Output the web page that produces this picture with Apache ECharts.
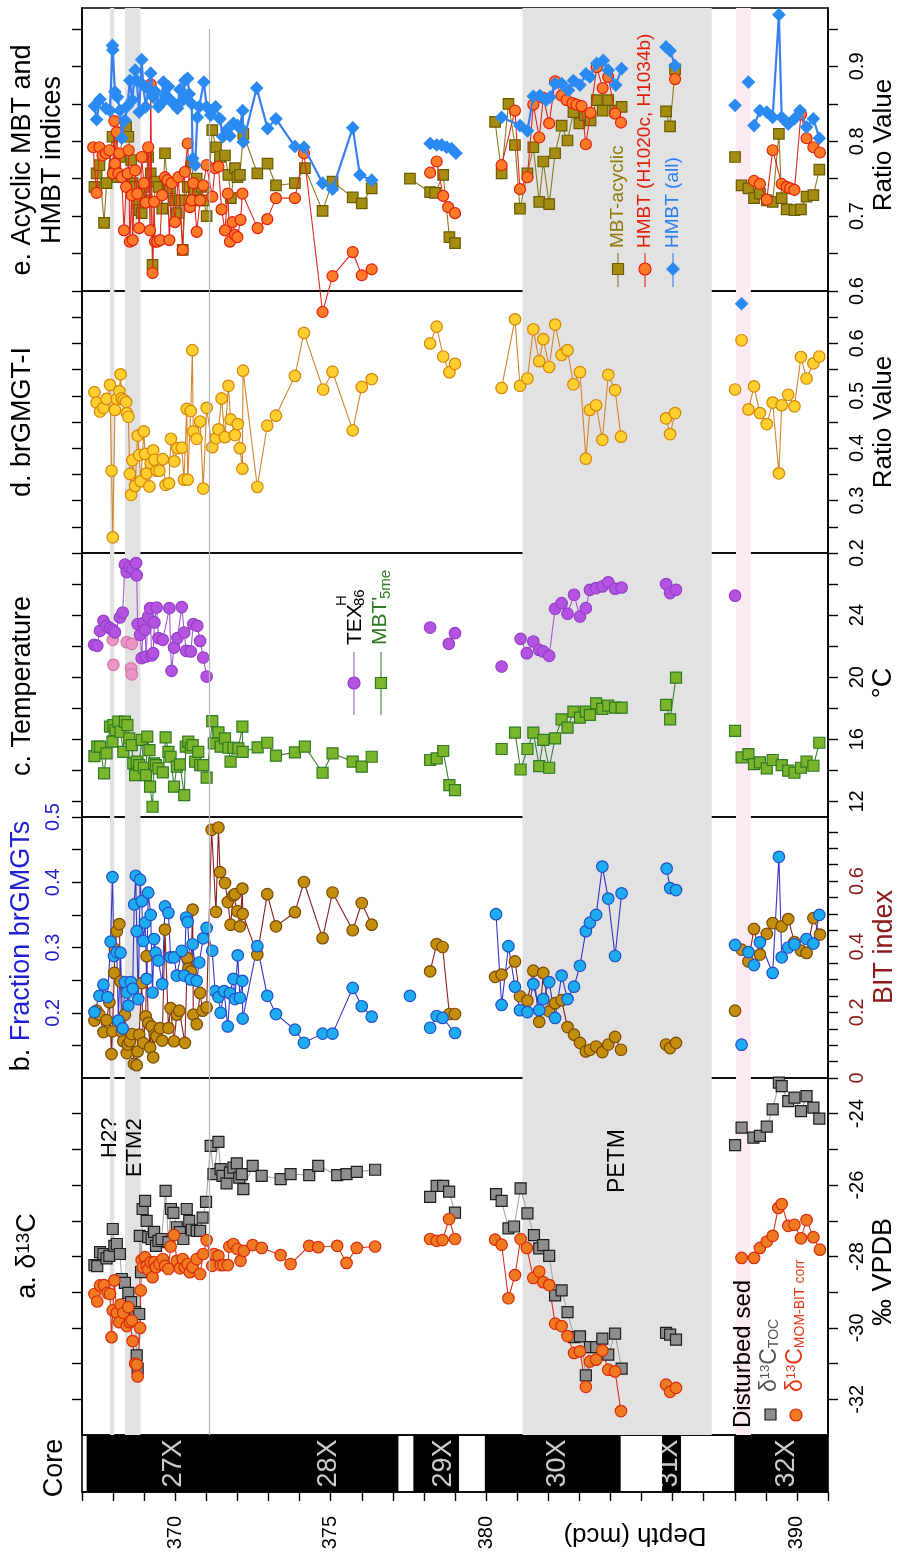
<!DOCTYPE html>
<html>
<head>
<meta charset="utf-8">
<script src="https://cdn.jsdelivr.net/npm/echarts@6.0.0/dist/echarts.min.js"></script>
<style>
html,body{margin:0;padding:0;background:#fff}
#chart{width:898px;height:1556px}
</style>
</head>
<body>
<div id="chart"></div>
<script>
// [depth mcd, value], null = gap in the line
// e. acyclic MBT / HMBT
var hmbtAll = [
 [367.40,0.847],[367.47,0.829],[367.58,0.856],[367.77,0.844],[367.90,0.841],[367.98,0.928],[367.99,0.922],[368.06,0.866],[368.14,0.859],[368.22,0.841],[368.28,0.804],[368.38,0.828],[368.46,0.847],[368.54,0.881],[368.62,0.855],[368.71,0.895],[368.76,0.881],[368.84,0.839],[368.92,0.909],[368.97,0.875],[369.05,0.846],[369.13,0.870],[369.21,0.891],[369.29,0.859],[369.37,0.866],[369.46,0.846],[369.53,0.850],[369.62,0.879],[369.69,0.861],[369.78,0.873],[369.85,0.855],[369.94,0.850],[370.07,0.844],[370.15,0.869],[370.24,0.855],[370.31,0.881],[370.40,0.884],[370.45,0.863],[370.53,0.850],[370.56,0.777],[370.64,0.768],[370.71,0.832],[370.77,0.846],[370.92,0.879],[371.01,0.846],[371.14,0.835],[371.30,0.846],[371.44,0.830],[371.53,0.806],[371.65,0.815],[371.76,0.807],[371.87,0.824],[372.00,0.821],[372.08,0.819],[372.17,0.841],[372.19,0.799],[372.62,0.871],[372.97,0.817],[373.24,0.830],[373.85,0.793],[374.14,0.792],[374.74,0.744],[375.06,0.736],[375.71,0.818],[375.94,0.755],[376.32,0.748], null,
 [378.20,0.797],[378.41,0.795],[378.57,0.795],[378.73,0.792],[378.89,0.790],[379.03,0.784], null,
 [380.50,0.832],[381.09,0.821],[381.33,0.814],[381.52,0.860],[381.73,0.861],[381.93,0.855],[382.06,0.859],[382.22,0.877],[382.43,0.877],[382.65,0.868],[382.81,0.881],[383.02,0.875],[383.21,0.890],[383.34,0.886],[383.56,0.904],[383.77,0.908],[383.93,0.895],[384.17,0.875],[384.36,0.897], null,
 [385.79,0.926],[385.92,0.921],[386.08,0.901], null,
 [388.01,0.848], null, [388.22,0.583], null, [388.44,0.879], null,
 [388.62,0.821],[388.81,0.841],[389.03,0.839],[389.22,0.832],[389.42,0.969],[389.51,0.832],[389.72,0.823],[389.92,0.830],[390.10,0.841],[390.31,0.819],[390.53,0.830],[390.72,0.804]
];
var hmbtSel = [
 [367.36,0.792],[367.47,0.731],[367.56,0.792],[367.66,0.781],[367.77,0.784],[367.88,0.788],[367.99,0.757],[368.04,0.827],[368.06,0.770],[368.12,0.812],[368.17,0.757],[368.20,0.784],[368.28,0.752],[368.35,0.681],[368.42,0.739],[368.47,0.757],[368.50,0.788],[368.54,0.666],[368.60,0.728],[368.63,0.668],[368.71,0.761],[368.78,0.730],[368.84,0.684],[368.92,0.779],[368.99,0.744],[369.05,0.718],[369.13,0.792],[369.19,0.681],[369.21,0.876],[369.27,0.624],[369.32,0.719],[369.35,0.666],[369.42,0.666],[369.51,0.668],[369.58,0.728],[369.67,0.752],[369.75,0.748],[369.81,0.668],[369.88,0.744],[369.99,0.692],[370.10,0.752],[370.24,0.655],[370.31,0.759],[370.40,0.797],[370.47,0.712],[370.53,0.721],[370.58,0.744],[370.69,0.679],[370.80,0.721],[370.90,0.741],[371.01,0.768],[371.19,0.726],[371.28,0.764],[371.39,0.766],[371.49,0.709],[371.60,0.681],[371.69,0.730],[371.76,0.666],[371.84,0.692],[371.92,0.675],[372.00,0.672],[372.10,0.695],[372.16,0.730],[372.65,0.684],[372.96,0.696],[373.24,0.724],[373.85,0.724],[374.14,0.784],[374.74,0.572],[375.06,0.620],[375.71,0.652],[376.00,0.621],[376.32,0.629], null,
 [378.20,0.758],[378.41,0.773],[378.62,0.727],[378.78,0.712],[379.00,0.704], null,
 [380.50,0.768],[380.93,0.841],[381.09,0.736],[381.33,0.752],[381.52,0.849],[381.71,0.805],[381.84,0.858],[382.03,0.824],[382.22,0.880],[382.43,0.861],[382.59,0.855],[382.78,0.851],[382.91,0.849],[383.07,0.847],[383.21,0.796],[383.36,0.838],[383.56,0.899],[383.75,0.871],[383.93,0.886],[384.15,0.837],[384.34,0.825], null,
 [386.08,0.883], null,
 [388.62,0.747],[388.81,0.743],[389.03,0.722],[389.22,0.788],[389.51,0.743],[389.67,0.739],[389.78,0.737],[389.92,0.735],[390.13,0.836],[390.31,0.804],[390.53,0.792],[390.74,0.785]
];
var mbtAcyclic = [
 [367.40,0.739],[367.47,0.757],[367.56,0.768],[367.71,0.691],[367.79,0.744],[367.98,0.806],[368.06,0.768],[368.14,0.752],[368.22,0.779],[368.31,0.812],[368.42,0.819],[368.49,0.806],[368.58,0.775],[368.63,0.744],[368.71,0.739],[368.76,0.717],[368.84,0.708],[368.92,0.704],[368.99,0.739],[369.08,0.721],[369.13,0.779],[369.21,0.757],[369.27,0.635],[369.35,0.746],[369.46,0.739],[369.58,0.710],[369.67,0.784],[369.75,0.741],[369.83,0.737],[369.96,0.721],[370.05,0.704],[370.15,0.721],[370.24,0.655],[370.32,0.721],[370.40,0.739],[370.53,0.772],[370.60,0.735],[370.69,0.750],[370.77,0.721],[370.85,0.739],[370.92,0.721],[371.01,0.700],[371.19,0.815],[371.31,0.792],[371.44,0.779],[371.60,0.781],[371.71,0.755],[371.79,0.724],[371.92,0.764],[372.00,0.752],[372.08,0.755],[372.19,0.810],[372.64,0.757],[372.97,0.770],[373.24,0.741],[373.85,0.744],[374.17,0.764],[374.74,0.707],[375.06,0.746],[375.71,0.725],[376.00,0.717],[376.32,0.737], null,
 [377.55,0.750],[378.20,0.732],[378.36,0.731],[378.62,0.755],[378.82,0.672],[379.00,0.664], null,
 [380.29,0.826],[380.50,0.757],[380.72,0.850],[380.93,0.795],[381.09,0.710],[381.33,0.757],[381.52,0.792],[381.71,0.719],[381.84,0.773],[382.03,0.716],[382.22,0.784],[382.43,0.821],[382.62,0.801],[382.81,0.839],[383.00,0.824],[383.18,0.835],[383.36,0.828],[383.56,0.855],[383.75,0.841],[383.93,0.855],[384.15,0.841],[384.36,0.846], null,
 [385.79,0.840],[385.92,0.820],[386.08,0.896], null,
 [388.01,0.779], null,
 [388.22,0.741],[388.44,0.737],[388.62,0.724],[388.81,0.730],[389.03,0.721],[389.22,0.719],[389.42,0.810],[389.51,0.724],[389.67,0.709],[389.92,0.708],[390.13,0.709],[390.31,0.726],[390.53,0.728],[390.72,0.762]
];

// d. brGMGT-I
var brgmgtI = [
 [367.40,0.507],[367.47,0.487],[367.58,0.470],[367.69,0.477],[367.79,0.494],[367.90,0.521],[367.95,0.357],[367.99,0.230],[368.06,0.473],[368.12,0.494],[368.20,0.509],[368.24,0.541],[368.28,0.495],[368.35,0.492],[368.42,0.488],[368.44,0.467],[368.49,0.460],[368.54,0.351],[368.58,0.311],[368.62,0.377],[368.71,0.328],[368.79,0.424],[368.84,0.387],[368.89,0.337],[368.99,0.432],[369.03,0.389],[369.08,0.352],[369.17,0.327],[369.21,0.371],[369.29,0.396],[369.33,0.378],[369.40,0.357],[369.49,0.357],[369.60,0.379],[369.69,0.330],[369.80,0.333],[369.86,0.418],[369.97,0.375],[370.07,0.400],[370.21,0.401],[370.28,0.340],[370.37,0.475],[370.40,0.340],[370.50,0.471],[370.55,0.587],[370.58,0.432],[370.69,0.418],[370.80,0.451],[370.90,0.323],[371.01,0.477],[371.19,0.402],[371.31,0.419],[371.39,0.436],[371.49,0.495],[371.60,0.421],[371.71,0.519],[371.78,0.455],[371.92,0.425],[372.01,0.446],[372.08,0.400],[372.16,0.361],[372.18,0.548],[372.64,0.326],[372.96,0.443],[373.24,0.462],[373.85,0.538],[374.14,0.620],[374.76,0.512],[375.06,0.546],[375.71,0.434],[376.00,0.517],[376.32,0.532], null,
 [378.20,0.600],[378.41,0.632],[378.62,0.575],[378.82,0.545],[379.00,0.561], null,
 [380.50,0.515],[380.93,0.646],[381.09,0.519],[381.33,0.533],[381.52,0.627],[381.71,0.566],[381.84,0.608],[382.03,0.555],[382.22,0.636],[382.43,0.578],[382.62,0.587],[382.81,0.522],[383.02,0.545],[383.21,0.380],[383.34,0.473],[383.54,0.482],[383.74,0.416],[383.93,0.540],[384.15,0.511],[384.34,0.422], null,
 [385.79,0.457],[385.92,0.427],[386.08,0.467], null,
 [388.01,0.512], null, [388.22,0.606], null,
 [388.44,0.474],[388.62,0.518],[388.81,0.467],[389.03,0.446],[389.22,0.487],[389.42,0.352],[389.51,0.482],[389.72,0.502],[389.92,0.480],[390.13,0.574],[390.31,0.533],[390.53,0.562],[390.72,0.575]
];

// c. temperature (°C)
var tex86 = [
 [367.39,22.09],[367.49,22.02],[367.58,22.99],[367.69,23.63],[367.79,23.31],[367.90,23.16],[367.99,23.05],[368.06,22.90],[368.22,23.85],[368.31,24.17],[368.38,27.25],[368.44,26.77],[368.53,27.10],[368.63,26.97],[368.74,27.35],[368.76,26.56],[368.79,23.42],[368.87,22.73],[368.92,21.23],[368.97,23.48],[369.03,23.05],[369.06,21.33],[369.13,23.91],[369.19,24.45],[369.24,21.40],[369.29,21.55],[369.33,23.53],[369.40,24.49],[369.46,22.52],[369.60,22.41],[369.81,24.45],[369.88,20.41],[369.96,21.91],[370.07,22.52],[370.21,24.52],[370.29,22.88],[370.35,21.70],[370.50,21.66],[370.58,23.42],[370.71,23.31],[370.80,22.34],[370.90,21.27],[371.01,20.04], null,
 [378.20,23.20], null, [378.80,22.15],[379.00,22.84], null,
 [380.50,20.69], null,
 [381.11,22.47],[381.31,21.55],[381.52,22.30],[381.71,21.76],[381.84,21.66],[382.03,21.38],[382.22,24.41],[382.43,24.77],[382.62,24.09],[382.83,25.31],[383.02,23.91],[383.21,24.45],[383.34,25.63],[383.54,25.74],[383.74,25.85],[383.93,26.11],[384.15,25.70],[384.36,25.78], null,
 [385.79,26.00],[385.92,25.42],[386.11,25.63], null,
 [388.01,25.25]
];
var tex86Excluded = [[367.99,22.41], null, [368.01,20.80], null, [368.44,22.26], null, [368.60,22.15], null, [368.58,20.58], null, [368.60,20.19]];
var mbt5me = [
 [367.40,14.92],[367.49,15.53],[367.58,15.53],[367.71,13.81],[367.79,15.10],[367.90,16.82],[367.98,15.85],[368.01,16.92],[368.08,16.60],[368.17,17.14],[368.24,16.49],[368.33,15.20],[368.38,17.14],[368.46,16.92],[368.52,16.06],[368.60,15.63],[368.65,14.45],[368.71,13.70],[368.76,14.56],[368.84,14.34],[368.92,15.96],[368.99,14.17],[369.06,13.70],[369.10,16.17],[369.17,15.31],[369.19,12.95],[369.27,11.66],[369.32,14.45],[369.38,14.34],[369.46,14.13],[369.60,13.87],[369.69,16.13],[369.78,15.20],[369.85,14.88],[369.96,12.95],[370.05,14.24],[370.15,14.39],[370.29,12.41],[370.34,15.53],[370.42,15.85],[370.50,15.46],[370.56,15.63],[370.64,14.56],[370.74,15.20],[370.80,14.34],[370.90,14.34],[371.01,13.53],[371.19,17.18],[371.24,15.74],[371.39,16.45],[371.46,15.53],[371.60,16.06],[371.71,15.46],[371.78,14.56],[371.87,15.46],[372.03,15.42],[372.16,16.82],[372.17,15.20],[372.65,15.48],[372.96,15.78],[373.24,14.95],[373.85,15.16],[374.17,15.53],[374.74,13.85],[375.06,15.10],[375.71,14.56],[376.00,14.24],[376.32,14.88], null,
 [378.20,14.67],[378.41,14.77],[378.62,15.25],[378.82,13.05],[379.00,12.73], null,
 [380.50,15.38], null,
 [380.93,16.43],[381.11,14.06],[381.33,15.38],[381.52,16.43],[381.71,14.28],[381.84,15.96],[382.03,14.17],[382.22,16.06],[382.43,17.29],[382.62,16.75],[382.81,17.78],[383.02,17.40],[383.21,17.78],[383.34,17.57],[383.54,18.32],[383.74,17.96],[383.93,18.17],[384.15,18.04],[384.36,18.04], null,
 [385.79,18.22],[385.92,17.29],[386.11,19.98], null,
 [388.01,16.54], null,
 [388.22,14.84],[388.44,15.05],[388.62,14.41],[388.81,14.52],[389.03,14.13],[389.22,14.67],[389.51,14.34],[389.72,13.98],[389.92,13.85],[390.13,14.17],[390.31,14.56],[390.53,14.30],[390.72,15.78]
];

// b. fraction brGMGTs (left) and BIT index (right)
var fracBrGMGT = [
 [367.40,0.201],[367.56,0.226],[367.69,0.243],[367.82,0.224],[367.92,0.309],[367.98,0.408],[368.03,0.287],[368.12,0.293],[368.17,0.188],[368.24,0.292],[368.31,0.176],[368.38,0.247],[368.44,0.231],[368.49,0.211],[368.57,0.247],[368.63,0.237],[368.68,0.366],[368.73,0.410],[368.76,0.325],[368.81,0.221],[368.87,0.404],[368.92,0.371],[368.97,0.310],[369.03,0.338],[369.08,0.252],[369.13,0.384],[369.21,0.350],[369.27,0.231],[369.32,0.313],[369.37,0.292],[369.46,0.280],[369.58,0.244],[369.67,0.363],[369.78,0.353],[369.85,0.285],[369.96,0.285],[370.05,0.257],[370.21,0.295],[370.29,0.257],[370.35,0.346],[370.40,0.339],[370.50,0.251],[370.56,0.305],[370.69,0.249],[370.77,0.277],[370.90,0.314],[371.01,0.330],[371.19,0.295],[371.28,0.233],[371.39,0.224],[371.46,0.200],[371.57,0.233],[371.69,0.179],[371.76,0.230],[371.87,0.252],[371.92,0.221],[372.01,0.288],[372.08,0.223],[372.16,0.249],[372.17,0.191],[372.64,0.302],[372.96,0.226],[373.24,0.198],[373.85,0.174],[374.14,0.154],[374.74,0.168],[375.06,0.168],[375.71,0.238],[376.00,0.210],[376.32,0.194], null,
 [377.55,0.226], null,
 [378.20,0.177],[378.41,0.195],[378.60,0.192],[379.00,0.169], null,
 [380.32,0.351],[380.50,0.212],[380.72,0.302],[380.93,0.240],[381.09,0.204],[381.33,0.201],[381.52,0.244],[381.71,0.204],[381.84,0.221],[382.03,0.247],[382.22,0.192],[382.43,0.257],[382.62,0.221],[382.83,0.240],[383.02,0.272],[383.21,0.325],[383.34,0.338],[383.54,0.350],[383.74,0.424],[383.93,0.375],[384.15,0.287],[384.36,0.383], null,
 [385.81,0.421],[385.92,0.391],[386.11,0.388], null,
 [388.01,0.304], null, [388.22,0.151], null,
 [388.44,0.293],[388.62,0.273],[388.81,0.308],[389.22,0.261],[389.42,0.439],[389.51,0.285],[389.72,0.300],[389.92,0.305],[390.31,0.313],[390.53,0.306],[390.72,0.350]
];
var bitIndex = [
 [367.40,0.175],[367.47,0.205],[367.56,0.193],[367.69,0.140],[367.79,0.176],[367.88,0.231],[367.95,0.073],[367.98,0.142],[368.04,0.320],[368.06,0.393],[368.12,0.447],[368.20,0.469],[368.24,0.294],[368.28,0.140],[368.33,0.112],[368.38,0.193],[368.44,0.076],[368.47,0.102],[368.54,0.112],[368.60,0.134],[368.67,0.043],[368.76,0.039],[368.79,0.081],[368.84,0.132],[368.92,0.289],[368.97,0.107],[369.05,0.188],[369.08,0.371],[369.13,0.168],[369.19,0.093],[369.24,0.157],[369.29,0.063],[369.35,0.132],[369.40,0.127],[369.51,0.152],[369.58,0.114],[369.67,0.452],[369.78,0.152],[369.85,0.213],[369.96,0.112],[370.05,0.193],[370.13,0.205],[370.31,0.107],[370.39,0.365],[370.42,0.333],[370.50,0.325],[370.56,0.513],[370.58,0.193],[370.69,0.164],[370.80,0.259],[370.88,0.205],[371.01,0.215],[371.17,0.756],[371.31,0.506],[371.39,0.763],[371.44,0.627],[371.60,0.594],[371.69,0.536],[371.78,0.467],[371.87,0.556],[371.92,0.560],[372.00,0.508],[372.08,0.462],[372.16,0.577],[372.17,0.500],[372.64,0.376],[372.96,0.560],[373.24,0.462],[373.85,0.505],[374.14,0.597],[374.74,0.426],[375.06,0.565],[375.71,0.450],[376.00,0.533],[376.32,0.467], null,
 [378.20,0.325],[378.41,0.408],[378.60,0.399],[378.82,0.195],[379.00,0.195], null,
 [380.29,0.308],[380.50,0.315],[380.93,0.355],[381.09,0.249],[381.33,0.236],[381.52,0.327],[381.71,0.171],[381.84,0.320],[382.03,0.203],[382.22,0.228],[382.43,0.237],[382.62,0.155],[382.83,0.132],[383.02,0.107],[383.21,0.081],[383.34,0.086],[383.54,0.096],[383.74,0.079],[383.93,0.102],[384.15,0.125],[384.34,0.086], null,
 [385.79,0.102],[385.92,0.091],[386.11,0.107], null,
 [388.01,0.205], null,
 [388.22,0.391],[388.44,0.355],[388.62,0.454],[388.81,0.376],[389.03,0.439],[389.22,0.472],[389.51,0.462],[389.72,0.484],[389.92,0.414],[390.13,0.388],[390.31,0.381],[390.53,0.487],[390.74,0.437]
];

// a. d13C (permil VPDB)
var d13cToc = [
 [367.40,-28.24],[367.49,-28.27],[367.58,-27.88],[367.69,-27.93],[367.79,-28.05],[367.88,-27.98],[367.99,-27.23],[368.04,-27.70],[368.12,-27.65],[368.22,-27.93],[368.28,-28.63],[368.38,-28.74],[368.49,-29.02],[368.58,-29.28],[368.71,-29.56],[368.76,-30.77],[368.79,-31.14],[368.84,-29.61],[368.86,-27.42],[368.90,-28.44],[368.95,-26.67],[369.03,-26.44],[369.08,-27.00],[369.13,-27.46],[369.24,-27.51],[369.32,-27.31],[369.38,-27.70],[369.46,-27.56],[369.56,-27.51],[369.69,-26.16],[369.78,-27.60],[369.86,-26.67],[369.94,-26.78],[370.05,-27.18],[370.15,-27.32],[370.26,-27.51],[370.37,-26.67],[370.45,-27.00],[370.53,-27.25],[370.69,-27.28],[370.80,-27.28],[370.88,-26.91],[370.99,-26.47],[371.14,-24.90],[371.23,-25.69],[371.39,-24.79],[371.46,-25.55],[371.52,-25.74],[371.65,-25.95],[371.76,-25.65],[371.87,-25.51],[371.98,-25.39],[372.06,-25.79],[372.14,-25.69],[372.19,-26.11],[372.49,-25.46],[372.78,-25.74],[373.39,-25.83],[373.71,-25.69],[374.31,-25.72],[374.60,-25.46],[375.21,-25.72],[375.51,-25.69],[375.84,-25.63],[376.43,-25.57], null,
 [378.20,-26.33],[378.41,-26.02],[378.62,-26.02],[378.81,-26.18],[379.00,-26.77], null,
 [380.32,-26.25],[380.50,-26.44],[380.72,-27.21],[380.90,-27.16],[381.11,-26.09],[381.33,-26.79],[381.54,-27.40],[381.71,-27.77],[381.84,-27.68],[382.03,-27.98],[382.22,-29.09],[382.43,-28.95],[382.62,-29.56],[382.83,-30.26],[383.02,-30.24],[383.21,-31.33],[383.34,-30.54],[383.54,-30.54],[383.74,-30.30],[383.93,-30.75],[384.15,-30.16],[384.36,-31.14], null,
 [385.79,-30.14],[385.92,-30.19],[386.11,-30.33], null,
 [388.01,-24.88], null,
 [388.22,-24.39],[388.60,-24.67],[388.81,-24.62],[389.03,-24.36],[389.22,-23.88],[389.42,-23.13],[389.51,-23.23],[389.72,-23.65],[389.92,-23.55],[390.13,-23.93],[390.31,-23.51],[390.53,-23.83],[390.72,-24.14]
];
var d13cMom = [
 [367.40,-29.05],[367.49,-29.26],[367.58,-28.81],[367.71,-28.80],[367.82,-29.02],[367.90,-29.05],[367.95,-30.26],[367.99,-29.51],[368.04,-28.67],[368.12,-29.58],[368.20,-29.84],[368.24,-29.35],[368.33,-29.58],[368.44,-29.95],[368.49,-29.42],[368.54,-29.84],[368.60,-29.79],[368.63,-30.37],[368.71,-31.00],[368.76,-31.03],[368.79,-31.36],[368.87,-30.00],[368.89,-28.95],[368.92,-28.10],[368.95,-28.30],[369.03,-28.02],[369.08,-28.26],[369.13,-28.37],[369.21,-28.16],[369.27,-28.58],[369.32,-28.16],[369.38,-28.30],[369.49,-28.21],[369.60,-28.07],[369.67,-28.26],[369.78,-28.35],[369.85,-27.72],[369.96,-27.40],[370.05,-28.12],[370.15,-28.33],[370.24,-28.07],[370.31,-28.30],[370.40,-28.21],[370.47,-28.44],[370.56,-28.30],[370.69,-28.07],[370.80,-28.49],[370.90,-27.93],[371.01,-27.54],[371.19,-28.26],[371.25,-27.93],[371.39,-27.98],[371.46,-28.24],[371.55,-28.24],[371.69,-28.24],[371.74,-27.72],[371.87,-27.65],[372.00,-27.79],[372.10,-28.12],[372.21,-27.84],[372.49,-27.68],[372.78,-27.76],[373.39,-27.96],[373.71,-28.21],[374.31,-27.70],[374.60,-27.74],[375.21,-27.70],[375.51,-28.18],[375.84,-27.76],[376.43,-27.72], null,
 [378.20,-27.51],[378.41,-27.56],[378.60,-27.54],[378.81,-26.95],[379.00,-27.51], null,
 [380.29,-27.53],[380.50,-27.67],[380.72,-29.17],[380.93,-28.52],[381.11,-27.51],[381.31,-27.76],[381.52,-28.60],[381.71,-28.42],[381.84,-28.72],[382.03,-28.80],[382.22,-29.88],[382.43,-29.95],[382.62,-30.23],[382.83,-30.70],[383.02,-30.66],[383.21,-31.65],[383.34,-30.94],[383.54,-30.89],[383.74,-30.63],[383.93,-31.17],[384.15,-31.22],[384.34,-32.33], null,
 [385.79,-31.59],[385.92,-31.79],[386.11,-31.68], null,
 [388.22,-28.04],[388.62,-28.04],[388.81,-27.76],[389.03,-27.58],[389.22,-27.42],[389.40,-26.64],[389.51,-26.53],[389.72,-27.14],[389.92,-27.11],[390.13,-27.49],[390.31,-26.98],[390.53,-27.46],[390.74,-27.81]
];

// cores: black intervals and label depths
var coreBlocks = [[367.15,377.18],[377.66,379.13],[379.96,384.33],[385.66,386.27],[387.98,391]];
var coreNames = ['27X','28X','29X','30X','31X','32X'];
var coreLabelDepth = [369.95,374.92,378.62,382.30,385.89,389.68];

// event bands
var greyBands = [[367.90,368.04],[368.38,368.88],[381.17,387.26]];
var pinkBand = [388.04,388.52];
var depthLine = 371.09;

var FONT = 'Liberation Sans, Arial, Helvetica, sans-serif';
var DMIN = 367, DMAX = 391;

function steps(a, b, s) {
    var r = [];
    for (var i = 0; a + i * s <= b + 1e-9; i++) r.push(+(a + i * s).toFixed(4));
    return r;
}
function segs(arr) {
    var out = [], cur = [];
    arr.forEach(function (p) {
        if (p === null) { if (cur.length) out.push(cur); cur = []; }
        else cur.push(p);
    });
    if (cur.length) out.push(cur);
    return out;
}

// panels top to bottom: e, d, c, b, a, core
var panels = [
    {top: 8, height: 283},
    {top: 291, height: 262},
    {top: 553, height: 264},
    {top: 817, height: 261},
    {top: 1078, height: 357},
    {top: 1435, height: 57}
];
var grid = panels.map(function (p) {
    return {left: 82, right: 70, top: p.top, height: p.height, show: true,
        borderColor: '#000', borderWidth: 1.6, backgroundColor: 'transparent',
        containLabel: false, outerBoundsMode: 'none'};
});

var xAxis = panels.map(function (p, i) {
    var last = i === panels.length - 1;
    return {
        type: 'value', gridIndex: i, min: DMIN, max: DMAX, position: 'bottom',
        splitLine: {show: false},
        axisLine: {show: last, onZero: false, lineStyle: {color: '#000', width: 1.6}},
        axisTick: {show: last, customValues: steps(367, 391, 1), length: 9, lineStyle: {color: '#000', width: 1.4}},
        axisLabel: {show: last, customValues: [370, 375, 380, 390], rotate: 90, align: 'right',
            verticalAlign: 'middle', margin: 24, fontSize: 20, color: '#000', fontFamily: FONT}
    };
});

function yPair(gi, min, max, ticks, labels, fmt, leftLabels, labelColor) {
    var base = {
        type: 'value', gridIndex: gi, min: min, max: max, splitLine: {show: false},
        axisLine: {show: true, onZero: false, lineStyle: {color: '#000', width: 1.6}},
        axisTick: {show: true, customValues: ticks, length: 10, lineStyle: {color: '#000', width: 1.4}}
    };
    var left = echarts.util.merge({position: 'left', axisLabel: {show: false}}, base, true);
    var right = echarts.util.merge({position: 'right', axisLabel: {show: true, customValues: labels, formatter: fmt,
        rotate: 90, align: 'center', verticalAlign: 'top', margin: 19, fontSize: 20,
        color: labelColor || '#000', fontFamily: FONT}}, base, true);
    if (leftLabels) {
        left.min = leftLabels.min; left.max = leftLabels.max;
        left.axisTick.customValues = leftLabels.ticks;
        left.axisLabel = {show: true, customValues: leftLabels.labels, formatter: leftLabels.fmt, rotate: 90,
            align: 'center', verticalAlign: 'bottom', margin: 19, fontSize: 20, color: leftLabels.color, fontFamily: FONT};
    }
    return [left, right];
}
var f1 = function (v) { return v === 0 ? '0' : v.toFixed(1); };
var f0 = function (v) { return String(Math.round(v)); };

var yAxis = [].concat(
    yPair(0, 0.6, 0.978, steps(0.6, 0.95, 0.05), [0.6, 0.7, 0.8, 0.9], f1),
    yPair(1, 0.2, 0.7, steps(0.2, 0.65, 0.05), [0.2, 0.3, 0.4, 0.5, 0.6], f1),
    yPair(2, 11, 28, steps(12, 26, 2), [12, 16, 20, 24], f0),
    yPair(3, 0, 0.795, steps(0, 0.75, 0.05), [0, 0.2, 0.4, 0.6], f1, {
        min: 0.1, max: 0.5, ticks: steps(0.15, 0.5, 0.05), labels: [0.2, 0.3, 0.4, 0.5], fmt: f1, color: '#1f1fd0'
    }, '#8b1a1a'),
    yPair(4, -33, -23, steps(-32, -24, 1), [-32, -30, -28, -26, -24], f0),
    [{type: 'value', gridIndex: 5, min: 0, max: 1, show: false}]
);

var series = [];

// shading bands + reference line in each data panel
for (var g = 0; g < 5; g++) {
    var areas = greyBands.map(function (b) {
        return [{xAxis: b[0], itemStyle: {color: '#e2e2e2'}}, {xAxis: b[1]}];
    });
    areas.push([{xAxis: pinkBand[0], itemStyle: {color: '#fcebf2'}}, {xAxis: pinkBand[1]}]);
    var lineData = g === 0
        ? [[{coord: [depthLine, 0.95]}, {coord: [depthLine, 0.6]}]]
        : [{xAxis: depthLine}];
    series.push({
        type: 'line', xAxisIndex: g, yAxisIndex: 2 * g + 1, data: [], silent: true, z: 1,
        markArea: {silent: true, data: areas, label: {show: false}},
        markLine: {silent: true, symbol: 'none', data: lineData, label: {show: false},
            lineStyle: {color: '#b4b4b4', width: 1.2, type: 'solid'}}
    });
}

function addSeries(arr, gi, yi, st) {
    segs(arr).forEach(function (seg) {
        seg.sort(function (a, b) { return a[0] - b[0]; });
        series.push({
            type: 'line', xAxisIndex: gi, yAxisIndex: yi, data: seg,
            symbol: st.symbol, symbolSize: st.size, showSymbol: true, showAllSymbol: true,
            clip: st.clip !== false, silent: true, z: st.z || 3,
            lineStyle: {color: st.line, width: st.lw || 1.1},
            itemStyle: {color: st.fill, borderColor: st.stroke, borderWidth: 1.2}
        });
    });
}

// e
addSeries(mbtAcyclic, 0, 1, {symbol: 'rect', size: 10.5, fill: '#a48d12', stroke: '#6b5c00', line: '#8a7b22', z: 3});
addSeries(hmbtSel, 0, 1, {symbol: 'circle', size: 11, fill: '#ff7b28', stroke: '#e0200e', line: '#e0281e', clip: false, z: 4});
addSeries(hmbtAll, 0, 1, {symbol: 'diamond', size: 12, fill: '#2a8af2', stroke: '#2a8af2', line: '#3a7ff0', lw: 2.2, clip: false, z: 5});
// d
addSeries(brgmgtI, 1, 3, {symbol: 'circle', size: 11.5, fill: '#ffcf2f', stroke: '#d5860a', line: '#d3852e'});
// c
addSeries(tex86Excluded, 2, 5, {symbol: 'circle', size: 11.5, fill: '#ec94c4', stroke: '#d27aa8', line: '#d27aa8'});
addSeries(tex86, 2, 5, {symbol: 'circle', size: 11.5, fill: '#b452e2', stroke: '#9540c6', line: '#a35ad6'});
addSeries(mbt5me, 2, 5, {symbol: 'rect', size: 11, fill: '#7bb52c', stroke: '#2f7a22', line: '#3d7f3a'});
// b
addSeries(bitIndex, 3, 7, {symbol: 'circle', size: 11.5, fill: '#c48f0c', stroke: '#7c4a06', line: '#8b1e1e'});
addSeries(fracBrGMGT, 3, 6, {symbol: 'circle', size: 11.5, fill: '#1eacf0', stroke: '#2250c8', line: '#3535c8'});
// a
addSeries(d13cToc, 4, 9, {symbol: 'rect', size: 11, fill: '#8e8e8e', stroke: '#1e1e1e', line: '#a6a6a6'});
addSeries(d13cMom, 4, 9, {symbol: 'circle', size: 11.5, fill: '#f07a22', stroke: '#d82c0c', line: '#d8341c'});

// core strip
series.push({
    type: 'line', xAxisIndex: 5, yAxisIndex: 10, data: [], silent: true,
    markArea: {silent: true, itemStyle: {color: '#000'}, label: {show: false},
        data: coreBlocks.map(function (b) { return [{xAxis: b[0], yAxis: 0}, {xAxis: b[1], yAxis: 1}]; })}
});
series.push({
    type: 'scatter', xAxisIndex: 5, yAxisIndex: 10, symbolSize: 0, silent: true, z: 5,
    data: coreNames.map(function (n, i) { return {value: [coreLabelDepth[i], 0.5], name: n}; }),
    label: {show: true, position: 'inside', rotate: 90, formatter: '{b}', color: '#fff',
        fontSize: 27, fontFamily: FONT}
});

function vtext(x, y, text, o) {
    o = o || {};
    return {
        type: 'text', x: x, y: y, rotation: o.rot !== undefined ? o.rot : Math.PI / 2, z: 50, silent: true,
        style: {text: text, fill: o.color || '#000', fontSize: o.size || 26, fontFamily: FONT,
            align: o.align || 'center', verticalAlign: 'middle', lineHeight: o.lh, rich: o.rich}
    };
}

var graphics = [
    // panel titles
    vtext(38, 160, 'e. Acyclic MBT and\nHMBT indices', {size: 27, lh: 30}),
    vtext(23, 422, 'd. brGMGT-I', {size: 27}),
    vtext(23, 686, 'c. Temperature', {size: 27}),
    vtext(22, 946, '{k|b. }{b|Fraction brGMGTs}', {size: 27, rich: {
        k: {fontSize: 27, fill: '#000', fontFamily: FONT}, b: {fontSize: 27, fill: '#1f1fd0', fontFamily: FONT}}}),
    vtext(28, 1256, '{a|a. δ}{s|13}{a|C}', {size: 27, rich: {
        a: {fontSize: 27, fontFamily: FONT}, s: {fontSize: 19, fontFamily: FONT, verticalAlign: 'top'}}}),
    // right axis names
    vtext(884, 145, 'Ratio Value', {size: 26}),
    vtext(884, 422, 'Ratio Value', {size: 26}),
    vtext(884, 683, '°C', {size: 27}),
    vtext(885, 947, 'BIT index', {size: 27, color: '#8b1a1a'}),
    vtext(884, 1272, '‰ VPDB', {size: 27}),
    // core + depth
    vtext(55, 1468, 'Core', {size: 27}),
    vtext(635, 1535, 'Depth (mcd)', {size: 26, rot: Math.PI}),
    // event labels
    vtext(110, 1158, 'H2?', {size: 22, align: 'left'}),
    vtext(135, 1177, 'ETM2', {size: 22, align: 'left'}),
    vtext(618, 1193, 'PETM', {size: 23, align: 'left'}),
    // panel a legend
    vtext(743, 1428, 'Disturbed sed', {size: 24, align: 'left'}),
    {type: 'rect', z: 50, silent: true, shape: {x: 765, y: 1409, width: 11, height: 11}, style: {fill: '#8e8e8e', stroke: '#1e1e1e', lineWidth: 1.2}},
    vtext(770, 1392, '{d|δ}{s|13}{d|C}{t|TOC}', {align: 'left', color: '#555', rich: {
        d: {fontSize: 23, fill: '#555', fontFamily: FONT}, s: {fontSize: 13, fill: '#555', fontFamily: FONT, verticalAlign: 'top'},
        t: {fontSize: 14, fill: '#555', fontFamily: FONT, verticalAlign: 'bottom'}}}),
    {type: 'circle', z: 50, silent: true, shape: {cx: 796, cy: 1415, r: 6}, style: {fill: '#f07a22', stroke: '#d82c0c', lineWidth: 1.2}},
    vtext(796, 1392, '{d|δ}{s|13}{d|C}{t|MOM-BIT corr}', {align: 'left', color: '#e23a18', rich: {
        d: {fontSize: 23, fill: '#e23a18', fontFamily: FONT}, s: {fontSize: 13, fill: '#e23a18', fontFamily: FONT, verticalAlign: 'top'},
        t: {fontSize: 14, fill: '#e23a18', fontFamily: FONT, verticalAlign: 'bottom'}}}),
    // panel c legend
    {type: 'line', z: 50, silent: true, shape: {x1: 354, y1: 652, x2: 354, y2: 715}, style: {stroke: '#a35ad6', lineWidth: 1.1}},
    {type: 'circle', z: 51, silent: true, shape: {cx: 354, cy: 683, r: 6}, style: {fill: '#b452e2', stroke: '#9540c6', lineWidth: 1.2}},
    vtext(355, 645, 'TEX', {size: 21, align: 'left'}),
    vtext(360, 606, '86', {size: 15, align: 'left'}),
    vtext(342, 606, 'H', {size: 15, align: 'left'}),
    {type: 'line', z: 50, silent: true, shape: {x1: 381, y1: 652, x2: 381, y2: 715}, style: {stroke: '#3d7f3a', lineWidth: 1.1}},
    {type: 'rect', z: 51, silent: true, shape: {x: 375.5, y: 677.5, width: 11, height: 11}, style: {fill: '#7bb52c', stroke: '#2f7a22', lineWidth: 1.2}},
    vtext(380, 645, "MBT'", {size: 21, align: 'left', color: '#2f7a22'}),
    vtext(386, 599, '5me', {size: 15, align: 'left', color: '#2f7a22'}),
    // panel e legend
    {type: 'line', z: 50, silent: true, shape: {x1: 618, y1: 253, x2: 618, y2: 287}, style: {stroke: '#8a7b22', lineWidth: 1.1}},
    {type: 'rect', z: 51, silent: true, shape: {x: 612.5, y: 263.5, width: 11, height: 11}, style: {fill: '#a48d12', stroke: '#6b5c00', lineWidth: 1.2}},
    vtext(618, 248, 'MBT-acyclic', {size: 19, align: 'left', color: '#8f7a08'}),
    {type: 'line', z: 50, silent: true, shape: {x1: 645, y1: 253, x2: 645, y2: 287}, style: {stroke: '#e0281e', lineWidth: 1.1}},
    {type: 'circle', z: 51, silent: true, shape: {cx: 645, cy: 269, r: 6}, style: {fill: '#ff7b28', stroke: '#e0200e', lineWidth: 1.2}},
    vtext(645, 248, 'HMBT (H1020c, H1034b)', {size: 19, align: 'left', color: '#e0200e'}),
    {type: 'line', z: 50, silent: true, shape: {x1: 673, y1: 253, x2: 673, y2: 287}, style: {stroke: '#3a7ff0', lineWidth: 1.1}},
    {type: 'polygon', z: 51, silent: true, shape: {points: [[673, 262], [680, 269], [673, 276], [666, 269]]}, style: {fill: '#2a8af2'}},
    vtext(673, 248, 'HMBT (all)', {size: 19, align: 'left', color: '#2a7ff0'})
];

var myChart = echarts.init(document.getElementById('chart'), null, {renderer: 'canvas'});
myChart.setOption({
    animation: false,
    backgroundColor: '#fff',
    textStyle: {fontFamily: FONT},
    grid: grid,
    xAxis: xAxis,
    yAxis: yAxis,
    series: series,
    graphic: graphics
});
</script>
</body>
</html>
